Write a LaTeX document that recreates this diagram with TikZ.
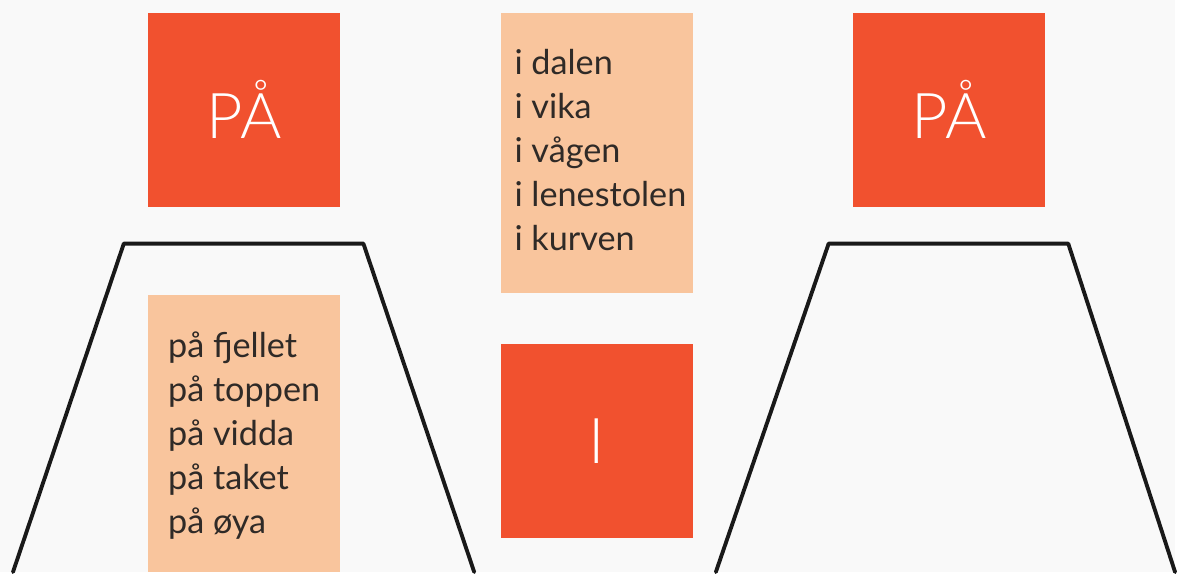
\documentclass[tikz,border=0pt]{standalone}
\usepackage{fontspec}
\setmainfont{Lato}
\newfontfamily\lightfont{Lato Light}
\usetikzlibrary{positioning}

\definecolor{tagred}{HTML}{F1512F}
\definecolor{peach}{HTML}{F9C59D}
\definecolor{paper}{HTML}{F9F9F9}
\definecolor{ink}{HTML}{2F2A27}

\begin{document}
\begin{tikzpicture}[x=0.02cm, y=-0.02cm, line cap=round, line join=round,
  prepbox/.style={fill=tagred, inner sep=0pt, outer sep=0pt,
    minimum width=3.86cm, minimum height=3.88cm,
    text=white, font=\lightfont\fontsize{36}{40}\selectfont},
  listbox/.style={fill=peach, inner sep=0pt, outer sep=0pt, minimum width=3.84cm},
  wordline/.style={anchor=base west, inner sep=0pt, text=ink,
    font=\fontsize{19.5}{25}\selectfont},
  hill/.style={draw=black!90, line width=2.2pt}]
  % paper, fixes the margins
  \fill[paper] (0,0) rectangle (1177,573);

  % the three preposition squares
  \node[prepbox] (paLeft) at (244.5,110) {PÅ};
  \node[prepbox] (paRight) at (950.5,110) {PÅ};
  \node[prepbox] (iBox) at (598,441.5) {I};

  % lists of places
  \node[listbox, minimum height=5.62cm] (iList) at (598,153.5) {};
  \node[listbox, minimum height=5.56cm] (paList) at (244.5,434) {};

  \foreach \w [count=\k] in {i dalen, i vika, i vågen, i lenestolen, i kurven}
    \node[wordline] (iw\k) at (515,{75+44*(\k-1)}) {\w};
  \foreach \w [count=\k] in {på fjellet, på toppen, på vidda, på taket, på øya}
    \node[wordline] (pw\k) at (168,{358+44*(\k-1)}) {\w};

  % the two hills
  \draw[hill] (13,573) -- (124,244) -- (364,244) -- (475,573);
  \draw[hill] (717,573) -- (830,244) -- (1070,244) -- (1177,573);
\end{tikzpicture}
\end{document}
